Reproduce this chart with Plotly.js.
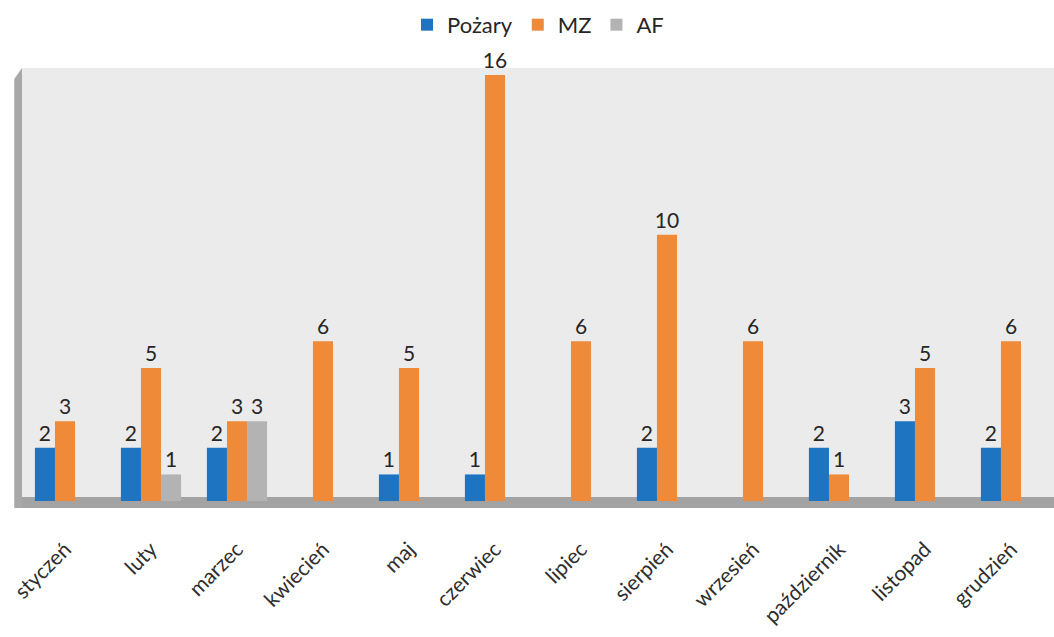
<!DOCTYPE html>
<html>
<head>
<meta charset="utf-8">
<script src="https://cdn.plot.ly/plotly-3.0.1.min.js"></script>
<style>html,body{margin:0;padding:0;background:#fff;}#chart{width:1054px;height:637px;}</style>
</head>
<body>
<div id="chart"></div>
<script>
const months = ["styczeń","luty","marzec","kwiecień","maj","czerwiec","lipiec","sierpień","wrzesień","październik","listopad","grudzień"];
const pozary = [2,2,2,null,1,1,null,2,null,2,3,2];
const mz = [3,5,3,6,5,16,6,10,6,1,5,6];
const af = [null,1,3,null,null,null,null,null,null,null,null,null];

const fam = "Lato, 'Open Sans', sans-serif";
const labelFont = {family:fam, size:21, color:"#262626"};

function series(name, vals, color){
  return {
    type:"bar", name:name, x:months, y:vals,
    marker:{color:color, line:{width:0}},
    text:vals.map(v => v==null ? "" : String(v)),
    textposition:"outside", textfont:labelFont, constraintext:"none",
    cliponaxis:false, hoverinfo:"skip"
  };
}

const data = [
  series("Pożary", pozary, "#1f74c2"),
  series("MZ", mz, "#ef8b38"),
  series("AF", af, "#b3b3b3")
];

const layout = {
  width:1054, height:637,
  margin:{l:22, r:0, t:68, b:129},
  paper_bgcolor:"#ffffff",
  plot_bgcolor:"#ebebeb",
  barmode:"group", bargap:0.3, bargroupgap:0,
  showlegend:true,
  legend:{orientation:"h", x:0.5, xanchor:"center", y:1.098, yanchor:"middle",
          font:{family:fam, size:22, color:"#262626"},
          itemwidth:30, traceorder:"normal"},
  xaxis:{range:[-0.5,11.5], tickangle:-45, showgrid:false, zeroline:false, showline:false,
         ticks:"", ticklabelstandoff:24,
         tickfont:{family:fam, size:21, color:"#2e2e2e"}, fixedrange:true},
  yaxis:{range:[-0.26,16.26], showgrid:false, zeroline:false, showline:false, showticklabels:false, ticks:"", fixedrange:true},
  shapes:[
    {type:"rect", xref:"paper", yref:"y", x0:0, x1:1, y0:-0.26, y1:0.15, fillcolor:"#a3a3a3", line:{width:0}, layer:"below"},
    {type:"path", xref:"paper", yref:"paper", path:"M -0.0075 0 L 0 0 L 0 1 L -0.0075 0.975 Z", fillcolor:"#a8a8a8", line:{width:0}, layer:"below"}
  ]
};

Plotly.newPlot("chart", data, layout, {staticPlot:true, displayModeBar:false});
</script>
</body>
</html>
